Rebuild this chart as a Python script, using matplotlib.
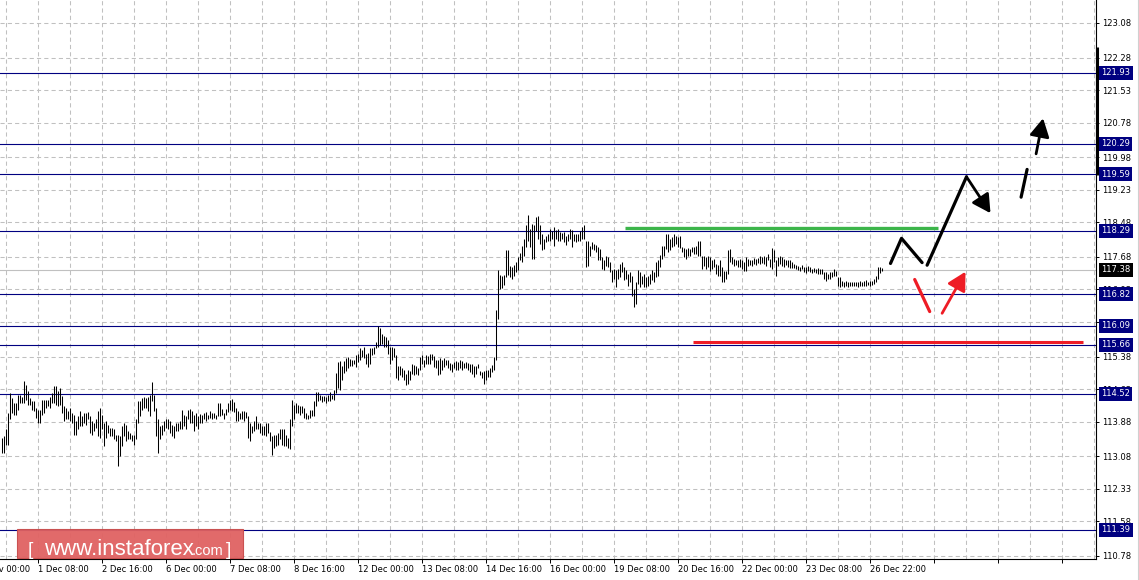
import numpy as np
import matplotlib
matplotlib.use("Agg")
import matplotlib.pyplot as plt
import matplotlib.transforms as mtransforms
from matplotlib.patches import Rectangle, FancyArrowPatch
from matplotlib.lines import Line2D

# hourly bars (high / low) left to right
bar_high = [
    113.50, 113.54, 113.71, 114.08, 114.54, 114.43, 114.31, 114.31, 114.50, 114.50,
    114.46, 114.81, 114.73, 114.58, 114.43, 114.35, 114.35, 114.20, 114.16, 114.16,
    114.39, 114.39, 114.39, 114.39, 114.46, 114.54, 114.71, 114.70, 114.58, 114.66,
    114.48, 114.23, 114.20, 114.12, 114.20, 114.08, 114.04, 113.89, 114.00, 114.12,
    114.00, 114.08, 114.08, 114.10, 114.00, 113.89, 113.85, 113.93, 114.12, 114.20,
    114.04, 113.85, 113.89, 113.81, 113.73, 113.73, 113.70, 113.58, 113.58, 113.54,
    113.77, 113.85, 113.81, 113.66, 113.62, 113.58, 113.58, 113.93, 114.35, 114.35,
    114.43, 114.46, 114.43, 114.46, 114.50, 114.79, 114.50, 114.20, 113.93, 113.77,
    113.81, 113.89, 113.93, 113.93, 113.89, 113.81, 113.77, 113.85, 113.85, 113.89,
    114.16, 114.04, 114.00, 114.16, 114.17, 114.12, 114.04, 114.08, 114.00, 114.06,
    114.04, 114.08, 114.10, 114.04, 114.12, 114.08, 114.07, 114.04, 114.31, 114.30,
    114.17, 114.08, 114.17, 114.30, 114.39, 114.40, 114.33, 114.20, 114.12, 114.08,
    114.12, 114.12, 114.10, 114.00, 113.85, 113.77, 113.89, 114.00, 113.85, 113.85,
    113.77, 113.77, 113.85, 113.85, 113.64, 113.54, 113.58, 113.58, 113.62, 113.70,
    113.71, 113.70, 113.58, 113.50, 113.93, 114.39, 114.27, 114.31, 114.27, 114.24,
    114.25, 114.20, 114.08, 114.04, 114.16, 114.14, 114.35, 114.56, 114.57, 114.50,
    114.48, 114.47, 114.45, 114.50, 114.56, 114.50, 114.60, 115.00, 115.25, 115.27,
    115.16, 115.27, 115.35, 115.37, 115.33, 115.30, 115.31,
    115.41, 115.45, 115.57, 115.53, 115.61, 115.45, 115.47, 115.57, 115.57, 115.61,
    115.72, 116.08, 116.03, 115.91, 115.85, 115.84, 115.76, 115.61, 115.61, 115.57,
    115.41, 115.16, 115.16, 115.11, 115.07, 114.99, 115.07, 115.05, 115.22, 115.18,
    115.16, 115.11, 115.38, 115.41, 115.30, 115.41, 115.39, 115.44, 115.45, 115.39,
    115.31, 115.31, 115.34, 115.31, 115.34, 115.31, 115.31, 115.24, 115.22, 115.26,
    115.28, 115.26, 115.31, 115.28, 115.24, 115.26, 115.24, 115.20, 115.22, 115.16,
    115.16, 115.22, 115.05, 115.03, 115.05, 115.07, 115.08, 115.11, 115.18, 115.38,
    116.45, 117.39, 117.26, 117.24, 117.26, 117.84, 117.85, 117.47, 117.45, 117.49,
    117.57, 117.68, 117.77,
    117.94, 118.10, 118.42, 118.65, 118.33, 118.44, 118.41, 118.60, 118.62, 118.41,
    118.21, 118.10, 118.16, 118.21, 118.33, 118.27, 118.37, 118.31, 118.33, 118.25,
    118.23, 118.25, 118.17, 118.21, 118.33, 118.31, 118.21, 118.21, 118.21, 118.29,
    118.37, 118.41, 118.04, 118.04, 117.94, 118.02, 117.98, 117.96, 117.91, 117.87,
    117.67, 117.60, 117.71, 117.67, 117.56, 117.37, 117.41, 117.37, 117.41, 117.52,
    117.56, 117.44, 117.37, 117.29, 117.33, 117.25, 116.94, 117.10, 117.37, 117.33,
    117.25, 117.29, 117.21, 117.25, 117.29, 117.39, 117.33, 117.57, 117.61, 117.73,
    117.94, 117.94, 118.21, 118.21, 118.10, 118.14, 118.21, 118.17, 118.14, 118.16,
    117.91, 117.88, 117.87, 117.88, 117.87, 117.91, 117.91, 117.94, 118.06,
    118.06, 117.71, 117.70, 117.67, 117.70, 117.67, 117.60, 117.63, 117.52, 117.50,
    117.60, 117.44, 117.36, 117.36, 117.83, 117.86, 117.67, 117.63, 117.62, 117.60,
    117.63, 117.60, 117.56, 117.67, 117.63, 117.62, 117.60, 117.65, 117.63, 117.65,
    117.71, 117.67, 117.70, 117.67, 117.75, 117.63, 117.88, 117.83, 117.60, 117.67,
    117.70, 117.67, 117.63, 117.62, 117.60, 117.60, 117.56, 117.52, 117.50, 117.48,
    117.46, 117.50, 117.44, 117.46, 117.48, 117.44, 117.40, 117.42, 117.40, 117.42,
    117.40, 117.40, 117.33, 117.33, 117.29, 117.34, 117.33, 117.40, 117.36, 117.21,
    117.21, 117.13, 117.10, 117.13, 117.10, 117.11, 117.10, 117.11, 117.10, 117.10,
    117.13, 117.10, 117.13, 117.16, 117.11, 117.13, 117.13, 117.17, 117.25, 117.44,
    117.46, 117.42,
]
bar_low = [
    113.16, 113.16, 113.35, 113.35, 113.93, 114.08, 114.04, 114.04, 114.16, 114.31,
    114.31, 114.31, 114.39, 114.27, 114.27, 114.16, 114.12, 113.97, 113.85, 113.85,
    114.04, 114.08, 114.20, 114.23, 114.20, 114.31, 114.31, 114.27, 114.23, 114.27,
    114.08, 113.89, 113.93, 113.93, 113.89, 113.85, 113.58, 113.58, 113.70, 113.77,
    113.77, 113.85, 113.81, 113.93, 113.62, 113.58, 113.66, 113.73, 113.54, 113.50,
    113.70, 113.31, 113.50, 113.62, 113.54, 113.54, 113.47, 113.43, 112.85, 113.08,
    113.31, 113.54, 113.43, 113.47, 113.47, 113.43, 113.35, 113.47, 113.85, 114.00,
    114.16, 114.20, 114.20, 114.12, 114.00, 114.35, 114.12, 113.54, 113.16, 113.47,
    113.58, 113.66, 113.73, 113.70, 113.62, 113.54, 113.50, 113.66, 113.66, 113.70,
    113.70, 113.77, 113.70, 113.93, 113.85, 113.85, 113.66, 113.77, 113.70, 113.85,
    113.85, 113.93, 113.89, 113.93, 113.97, 113.94, 113.97, 113.94, 114.00, 114.00,
    114.04, 113.94, 114.04, 114.10, 114.16, 114.12, 114.10, 113.89, 113.89, 113.93,
    113.93, 113.89, 113.97, 113.50, 113.43, 113.62, 113.66, 113.70, 113.70, 113.62,
    113.58, 113.58, 113.54, 113.62, 113.43, 113.10, 113.27, 113.31, 113.35, 113.47,
    113.35, 113.31, 113.31, 113.27, 113.24, 113.77, 113.93, 114.08, 114.08, 114.04,
    114.08, 113.97, 113.93, 113.93, 113.97, 114.00, 114.00, 114.24, 114.35, 114.39,
    114.33, 114.35, 114.31, 114.35, 114.35, 114.40, 114.39, 114.54, 114.66, 114.60,
    114.85, 115.00, 115.04, 115.12, 115.16, 115.16, 115.20,
    115.14, 115.26, 115.30, 115.38, 115.34, 115.22, 115.14, 115.22, 115.41, 115.45,
    115.57, 115.61, 115.64, 115.68, 115.61, 115.61, 115.45, 115.22, 115.30, 115.38,
    114.88, 114.84, 114.95, 114.91, 114.84, 114.72, 114.76, 114.84, 114.99, 114.95,
    114.99, 114.95, 115.07, 115.22, 115.14, 115.22, 115.21, 115.22, 115.30, 115.14,
    115.11, 114.95, 114.99, 115.07, 115.14, 115.18, 115.11, 115.07, 115.03, 115.11,
    115.07, 115.07, 115.11, 115.07, 115.11, 115.11, 115.07, 115.03, 114.99, 114.91,
    114.99, 115.11, 114.95, 114.88, 114.76, 114.84, 114.91, 114.91, 115.03, 115.07,
    115.30, 116.26, 116.95, 116.97, 117.03, 117.22, 117.26, 117.22, 117.18, 117.24,
    117.34, 117.37, 117.60,
    117.56, 117.71, 117.91, 118.06, 117.91, 117.64, 117.64, 118.29, 118.10, 117.98,
    117.83, 117.87, 118.02, 118.06, 118.06, 118.10, 117.94, 118.10, 118.06, 118.06,
    118.10, 118.02, 117.96, 118.06, 118.10, 117.91, 118.04, 118.02, 118.06, 118.06,
    118.10, 118.10, 117.44, 117.48, 117.71, 117.87, 117.83, 117.79, 117.60, 117.60,
    117.41, 117.37, 117.48, 117.44, 117.33, 117.10, 117.18, 116.98, 117.18, 117.21,
    117.33, 117.14, 117.18, 117.02, 117.10, 116.79, 116.52, 116.60, 117.06, 116.98,
    117.06, 116.98, 116.98, 117.02, 117.06, 117.14, 117.10, 117.21, 117.25, 117.44,
    117.64, 117.71, 117.87, 117.79, 117.83, 117.91, 117.94, 117.98, 117.91, 117.88,
    117.79, 117.67, 117.64, 117.71, 117.71, 117.79, 117.75, 117.75, 117.71,
    117.71, 117.40, 117.48, 117.40, 117.44, 117.36, 117.40, 117.44, 117.29, 117.25,
    117.25, 117.10, 117.10, 117.17, 117.29, 117.56, 117.52, 117.48, 117.50, 117.44,
    117.44, 117.40, 117.36, 117.36, 117.48, 117.50, 117.48, 117.52, 117.50, 117.54,
    117.52, 117.54, 117.52, 117.48, 117.60, 117.44, 117.40, 117.56, 117.25, 117.48,
    117.52, 117.48, 117.46, 117.50, 117.44, 117.42, 117.42, 117.42, 117.40, 117.39,
    117.36, 117.40, 117.34, 117.31, 117.36, 117.33, 117.31, 117.33, 117.31, 117.29,
    117.29, 117.29, 117.17, 117.13, 117.17, 117.17, 117.21, 117.23, 117.25, 117.02,
    116.98, 117.02, 116.98, 117.02, 116.98, 117.00, 117.02, 117.00, 117.02, 116.98,
    117.02, 117.02, 117.00, 117.02, 117.03, 117.02, 117.03, 117.06, 117.10, 117.17,
    117.31, 117.36,
]

price_ticks = [123.08, 122.28, 121.53, 120.78, 119.98, 119.23, 118.48, 117.68, 116.93,
               116.18, 115.38, 114.63, 113.88, 113.08, 112.33, 111.58, 110.78]
levels = [121.93, 120.29, 119.59, 118.29, 116.82, 116.09, 115.66, 114.52, 111.39]
last_price = 117.38
time_labels = ["30 Nov 00:00", "1 Dec 08:00", "2 Dec 16:00", "6 Dec 00:00", "7 Dec 08:00",
               "8 Dec 16:00", "12 Dec 00:00", "13 Dec 08:00", "14 Dec 16:00", "16 Dec 00:00",
               "19 Dec 08:00", "20 Dec 16:00", "22 Dec 00:00", "23 Dec 08:00", "26 Dec 22:00"]

# drawn-in analysis (bar index, price)
resist_level = 118.36
resist_span = (311.5, 468)
support_level = 115.72
support_span = (345.5, 540.5)
zigzag = [(444.5, 117.53), (450.0, 118.11), (460.3, 117.55)]
main_leg = [(462.8, 117.49), (482.5, 119.53)]
pullback = [(482.5, 119.53), (494.5, 118.69)]
dash_leg = [(509.8, 119.06), (512.8, 119.70)]
breakout = [(517.3, 120.06), (520.8, 120.88)]
red_leg = [(456.6, 117.16), (464.1, 116.42)]
red_bounce = [(470.3, 116.38), (482.0, 117.34)]

navy = "#000080"
W, H = 1139, 580

fig = plt.figure(figsize=(W / 100, H / 100), dpi=100)
fig.patch.set_facecolor("white")
ax = fig.add_axes([0, (H - 559) / H, 1096 / W, 559 / H])
ax.set_xlim(-0.75, 547.25)
ax.set_ylim(110.71, 123.61)

for s in ["left", "top"]:
    ax.spines[s].set_visible(False)
for s in ["right", "bottom"]:
    ax.spines[s].set_linewidth(0.8)
    ax.spines[s].set_color("black")

ax.yaxis.tick_right()
ax.set_yticks(price_ticks)
# 116.18 sits fully under the 116.09 box in the original
ax.set_yticklabels(["" if v == 116.18 else f"{v:.2f}" for v in price_ticks])
ax.tick_params(axis="y", length=2.2, width=0.7, pad=2.2, labelsize=6)

xt = np.arange(18, 548, 32)
ax.set_xticks(xt)
ax.set_xticklabels([""] * len(xt))
ax.set_xticks(np.arange(2, 548, 32), minor=True)
ax.tick_params(axis="x", which="major", length=3, width=0.7)
ax.tick_params(axis="x", which="minor", length=0)
grid_style = dict(color="#c0c0c0", lw=0.75, linestyle=(0, (4, 3)))
ax.grid(True, axis="y", **grid_style)
ax.grid(True, axis="x", which="both", **grid_style)

tx = mtransforms.blended_transform_factory(ax.transData, fig.transFigure)
for k, lab in enumerate(time_labels):
    ax.text(-14 + 32 * k, 1 - 569 / H, lab, transform=tx, ha="left", va="center",
            fontsize=6, clip_on=False)

# bars
assert len(bar_high) == len(bar_low)
idx = np.arange(len(bar_high))
ax.vlines(idx, bar_low, bar_high, colors="black", lw=0.75, zorder=3)

ty = mtransforms.blended_transform_factory(ax.transAxes, ax.transData)
for lv in levels:
    ax.axhline(lv, color=navy, lw=0.8, zorder=2)
    ax.text(1 + 5 / 1096, lv, f"{lv:.2f}", transform=ty, color="white", fontsize=6,
            ha="left", va="center", zorder=10, clip_on=False,
            bbox=dict(boxstyle="square,pad=0.3", fc=navy, ec="none"))
ax.axhline(last_price, color="#c0c0c0", lw=0.8, zorder=1.8)
ax.text(1 + 5 / 1096, last_price, f"{last_price:.2f}", transform=ty, color="white",
        fontsize=6, ha="left", va="center", zorder=10, clip_on=False,
        bbox=dict(boxstyle="square,pad=0.3", fc="black", ec="none"))
ax.plot([1 + 0.8 / 1096] * 2, [119.57, 122.53], transform=ty, color="black", lw=2.2,
        solid_capstyle="butt", clip_on=False, zorder=9)

# analysis lines
ax.hlines(resist_level, *resist_span, color="#3cb54a", lw=2.4, zorder=4)
ax.hlines(support_level, *support_span, color="#ee1c25", lw=2.2, zorder=4)


def seg(pts, color):
    xs, ys = zip(*pts)
    ax.plot(xs, ys, color=color, lw=2.3, solid_capstyle="round", zorder=5)


def arrow(pts, color):
    ax.add_patch(FancyArrowPatch(pts[0], pts[1], arrowstyle="-|>,head_length=0.55,head_width=0.3",
                                 mutation_scale=20, lw=2.0, color=color,
                                 shrinkA=0, shrinkB=0, zorder=5))


seg(zigzag, "black")
seg(main_leg, "black")
arrow(pullback, "black")
seg(dash_leg, "black")
arrow(breakout, "black")
seg(red_leg, "#ee1c25")
arrow(red_bounce, "#ee1c25")

# side strip
fig.add_artist(Line2D([1137.5 / W] * 2, [0, 1], color="#d0d0d0", lw=0.8))

# watermark
fig.add_artist(Rectangle((17 / W, 1 - 558 / H), 226 / W, 29 / H, transform=fig.transFigure,
                         fc="#e06262", ec="#c84c4c", lw=0.8, alpha=0.95, zorder=20))
base = 1 - 555 / H
fig.text(28 / W, base, "[", color="white", fontsize=14, family="Liberation Sans",
         va="baseline", zorder=21)
fig.text(44 / W, base, "www.instaforex", color="white", fontsize=16,
         family="Liberation Sans", va="baseline", zorder=21)
fig.text(192 / W, base, ".com", color="white", fontsize=10.5, family="Liberation Sans",
         va="baseline", zorder=21)
fig.text(226 / W, base, "]", color="white", fontsize=14, family="Liberation Sans",
         va="baseline", zorder=21)

fig.savefig("out.png", dpi=100)
